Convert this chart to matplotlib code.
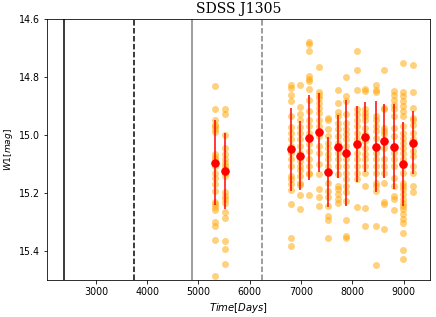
import matplotlib
matplotlib.use("Agg")
import matplotlib.pyplot as plt

# epochs (days) with mean W1 and scatter
epoch_days = [5324, 5519, 6798, 6986, 7155, 7350, 7520, 7720,
              7883, 8085, 8246, 8454, 8611, 8817, 8981, 9188]
w1_mean = [15.095, 15.125, 15.050, 15.072, 15.009, 14.991, 15.128, 15.040,
           15.063, 15.030, 15.007, 15.040, 15.021, 15.040, 15.100, 15.027]
w1_err = [0.145, 0.132, 0.143, 0.119, 0.148, 0.136, 0.120, 0.109,
          0.183, 0.131, 0.120, 0.157, 0.128, 0.148, 0.144, 0.108]

# single exposures for each epoch
w1_single = [
    [14.830, 14.912, 14.947, 14.964, 14.970, 14.979, 14.99, 15.067, 15.075, 15.084,
     15.107, 15.130, 15.147, 15.170, 15.193, 15.230, 15.238, 15.250, 15.258,
     15.301, 15.313, 15.362, 15.486],
    [14.912, 14.929, 15.000, 15.044, 15.067, 15.084, 15.095, 15.107, 15.118,
     15.130, 15.141, 15.198, 15.210, 15.221, 15.233, 15.265, 15.287, 15.367,
     15.395, 15.444],
    [14.829, 14.838, 14.861, 14.884, 14.935, 14.972, 14.992, 15.015, 15.038,
     15.061, 15.084, 15.107, 15.141, 15.153, 15.170, 15.189, 15.238, 15.355,
     15.382],
    [14.828, 14.903, 14.926, 14.949, 14.972, 14.992, 15.015, 15.038, 15.061,
     15.090, 15.107, 15.120, 15.140, 15.164, 15.173, 15.206, 15.257],
    [14.679, 14.686, 14.712, 14.798, 14.807, 14.815, 14.840, 14.878, 14.918,
     14.947, 14.970, 14.992, 15.032, 15.055, 15.084, 15.107, 15.130, 15.135,
     15.206],
    [14.766, 14.853, 14.861, 14.872, 14.890, 14.907, 14.924, 14.947, 14.970,
     15.004, 15.038, 15.061, 15.101, 15.135, 15.185, 15.215, 15.244],
    [14.941, 14.947, 14.981, 15.004, 15.027, 15.044, 15.067, 15.084, 15.107,
     15.130, 15.164, 15.193, 15.215, 15.244, 15.281, 15.292, 15.356],
    [14.845, 14.890, 14.921, 14.935, 14.958, 14.981, 15.004, 15.027, 15.061,
     15.084, 15.107, 15.135, 15.175, 15.187, 15.204, 15.221, 15.233],
    [14.801, 14.866, 14.884, 14.929, 14.958, 14.981, 14.998, 15.015, 15.038,
     15.061, 15.084, 15.107, 15.130, 15.153, 15.175, 15.198, 15.227, 15.295,
     15.349, 15.355],
    [14.709, 14.775, 14.844, 14.912, 14.929, 14.947, 14.970, 14.992, 15.015,
     15.038, 15.061, 15.084, 15.107, 15.130, 15.153, 15.247],
    [14.841, 14.849, 14.912, 14.924, 14.935, 14.947, 14.975, 14.998, 15.021,
     15.044, 15.067, 15.084, 15.107, 15.130, 15.175, 15.252, 15.315],
    [14.828, 14.844, 14.853, 14.935, 14.947, 14.970, 14.987, 15.010, 15.038,
     15.061, 15.084, 15.107, 15.130, 15.164, 15.175, 15.193, 15.313, 15.450],
    [14.777, 14.907, 14.912, 14.975, 14.987, 14.998, 15.044, 15.084, 15.107,
     15.130, 15.164, 15.230, 15.238, 15.324],
    [14.849, 14.861, 14.878, 14.895, 14.912, 14.935, 14.975, 15.004, 15.038,
     15.061, 15.084, 15.107, 15.147, 15.175, 15.210, 15.221, 15.258],
    [14.750, 14.853, 14.866, 14.884, 14.901, 14.918, 14.935, 14.970, 14.992,
     15.010, 15.027, 15.044, 15.061, 15.084, 15.107, 15.130, 15.164, 15.175,
     15.187, 15.204, 15.221, 15.233, 15.244, 15.255, 15.273, 15.290, 15.305,
     15.339, 15.396, 15.429],
    [14.758, 14.853, 14.907, 14.941, 14.947, 14.964, 14.992, 15.015, 15.032,
     15.055, 15.072, 15.107, 15.130, 15.175, 15.198],
]

# reference epochs drawn as vertical lines
vlines_days = [2388, 3752, 4882, 6240]
vlines_color = ["black", "black", "gray", "gray"]
vlines_style = ["-", "--", "-", "--"]

fig = plt.figure(figsize=(436 / 72, 317 / 72), dpi=72)
ax = fig.add_axes([0.108, 0.117, 0.878, 0.823])

for d, mags in zip(epoch_days, w1_single):
    ax.plot([d] * len(mags), mags, "o", color="orange", alpha=0.5,
            markersize=7, markeredgewidth=0, zorder=2)

ax.errorbar(epoch_days, w1_mean, yerr=w1_err, fmt="o", color="red",
            ecolor="red", elinewidth=1.5, markersize=7.5, capsize=0, zorder=3)

for d, c, ls in zip(vlines_days, vlines_color, vlines_style):
    ax.axvline(d, color=c, linestyle=ls, linewidth=1.5, zorder=1)

ax.set_xlim(2050, 9510)
ax.set_ylim(15.5, 14.6)
ax.set_yticks([14.6, 14.8, 15.0, 15.2, 15.4])
ax.set_xticks([3000, 4000, 5000, 6000, 7000, 8000, 9000])
ax.tick_params(axis="x", labelsize=9.5)
ax.tick_params(axis="y", labelsize=9.5)
ax.set_title("SDSS J1305", family="DejaVu Serif", fontsize=14)
ax.set_xlabel("$Time[Days]$", fontsize=10)
ax.set_ylabel("$W1[mag]$", fontsize=9)

fig.savefig("out.png", dpi=72)
